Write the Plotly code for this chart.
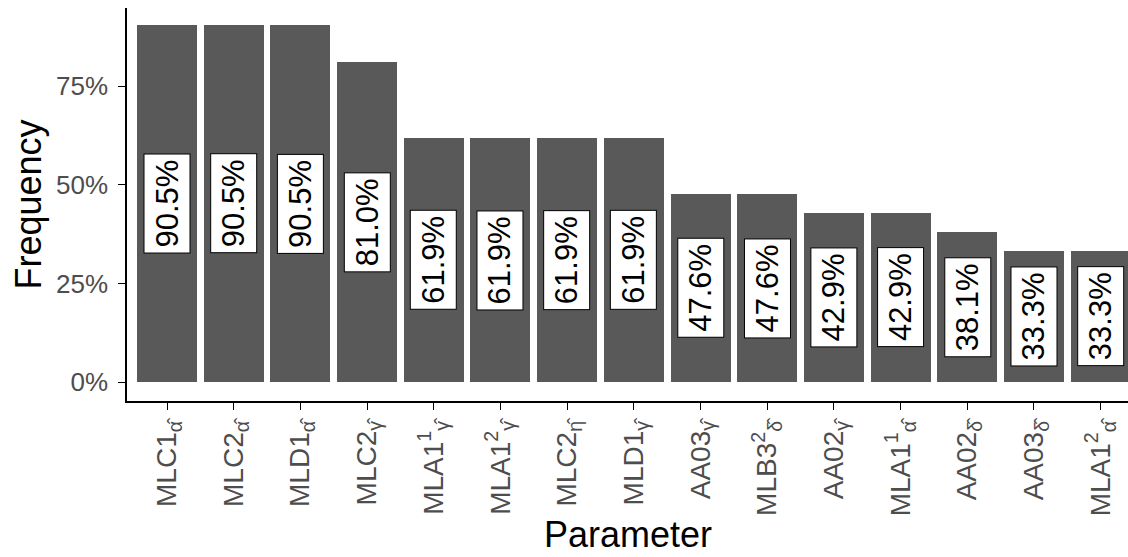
import plotly.graph_objects as go

# Parameter names (HTML markup for hats, sub- and superscripts)
parameters = [
    "MLC1<sub>α̂</sub>",
    "MLC2<sub>α̂</sub>",
    "MLD1<sub>α̂</sub>",
    "MLC2<sub>γ̂</sub>",
    "MLA1<sup>1</sup><sub>γ̂</sub>",
    "MLA1<sup>2</sup><sub>γ̂</sub>",
    "MLC2<sub>η̂</sub>",
    "MLD1<sub>γ̂</sub>",
    "AA03<sub>γ̂</sub>",
    "MLB3<sup>2</sup><sub>δ̂</sub>",
    "AA02<sub>γ̂</sub>",
    "MLA1<sup>1</sup><sub>α̂</sub>",
    "AA02<sub>δ̂</sub>",
    "AA03<sub>δ̂</sub>",
    "MLA1<sup>2</sup><sub>α̂</sub>",
]
# Frequency of each parameter (percent)
frequency = [90.5, 90.5, 90.5, 81.0, 61.9, 61.9, 61.9, 61.9,
             47.6, 47.6, 42.9, 42.9, 38.1, 33.3, 33.3]
y_ticks = [0, 25, 50, 75]
y_tick_labels = ["0%", "25%", "50%", "75%"]

FONT = "Liberation Sans, Arial, Helvetica, sans-serif"
xs = list(range(len(parameters)))
vals = [v / 100 for v in frequency]

# Plot-area geometry in pixels (figure is 1128 x 557)
LEFT, TOP, BOTTOM = 127, 8, 401
PLOT_W, PLOT_H = 1128 - LEFT, BOTTOM - TOP

fig = go.Figure(
    go.Bar(
        x=xs,
        y=vals,
        width=0.9,
        marker=dict(color="#595959", line=dict(width=0)),
        hoverinfo="skip",
    )
)

# Value labels in the middle of each bar
for x, v, f in zip(xs, vals, frequency):
    fig.add_annotation(
        x=x, y=v / 2, xref="x", yref="y",
        text=f"{f:.1f}%",
        textangle=-90,
        showarrow=False,
        font=dict(family=FONT, size=31, color="black"),
        bgcolor="white",
        bordercolor="black",
        borderwidth=1,
        borderpad=5,
    )

# Axis titles
fig.add_annotation(
    xref="paper", yref="paper",
    x=(28 - LEFT) / PLOT_W, y=0.5,
    xanchor="center", yanchor="middle",
    text="Frequency", showarrow=False, textangle=-90,
    font=dict(family=FONT, size=36, color="black"),
)
fig.add_annotation(
    xref="paper", yref="paper",
    x=(628 - LEFT) / PLOT_W, y=-(534 - BOTTOM) / PLOT_H,
    xanchor="center", yanchor="middle",
    text="Parameter", showarrow=False,
    font=dict(family=FONT, size=36, color="black"),
)

fig.update_layout(
    width=1128, height=557,
    margin=dict(l=LEFT, r=0, t=TOP, b=557 - BOTTOM),
    paper_bgcolor="white",
    plot_bgcolor="white",
    showlegend=False,
    bargap=0,
    font=dict(family=FONT),
)
fig.update_xaxes(
    range=[-0.6, 14.41],
    tickmode="array", tickvals=xs, ticktext=parameters,
    tickangle=-90,
    tickfont=dict(family=FONT, size=28, color="#4D4D4D"),
    ticks="outside", ticklen=7, tickwidth=1.2, tickcolor="black",
    showline=True, linecolor="black", linewidth=1.5,
    showgrid=False, zeroline=False,
)
fig.update_yaxes(
    range=[-0.0475, 0.9475],
    tickmode="array", tickvals=[t / 100 for t in y_ticks], ticktext=y_tick_labels,
    tickfont=dict(family=FONT, size=26, color="#4D4D4D"),
    ticks="outside", ticklen=7, tickwidth=1.2, tickcolor="black",
    ticklabelstandoff=5,
    showline=True, linecolor="black", linewidth=1.5,
    showgrid=False, zeroline=False,
)

fig.write_html("out.html")
